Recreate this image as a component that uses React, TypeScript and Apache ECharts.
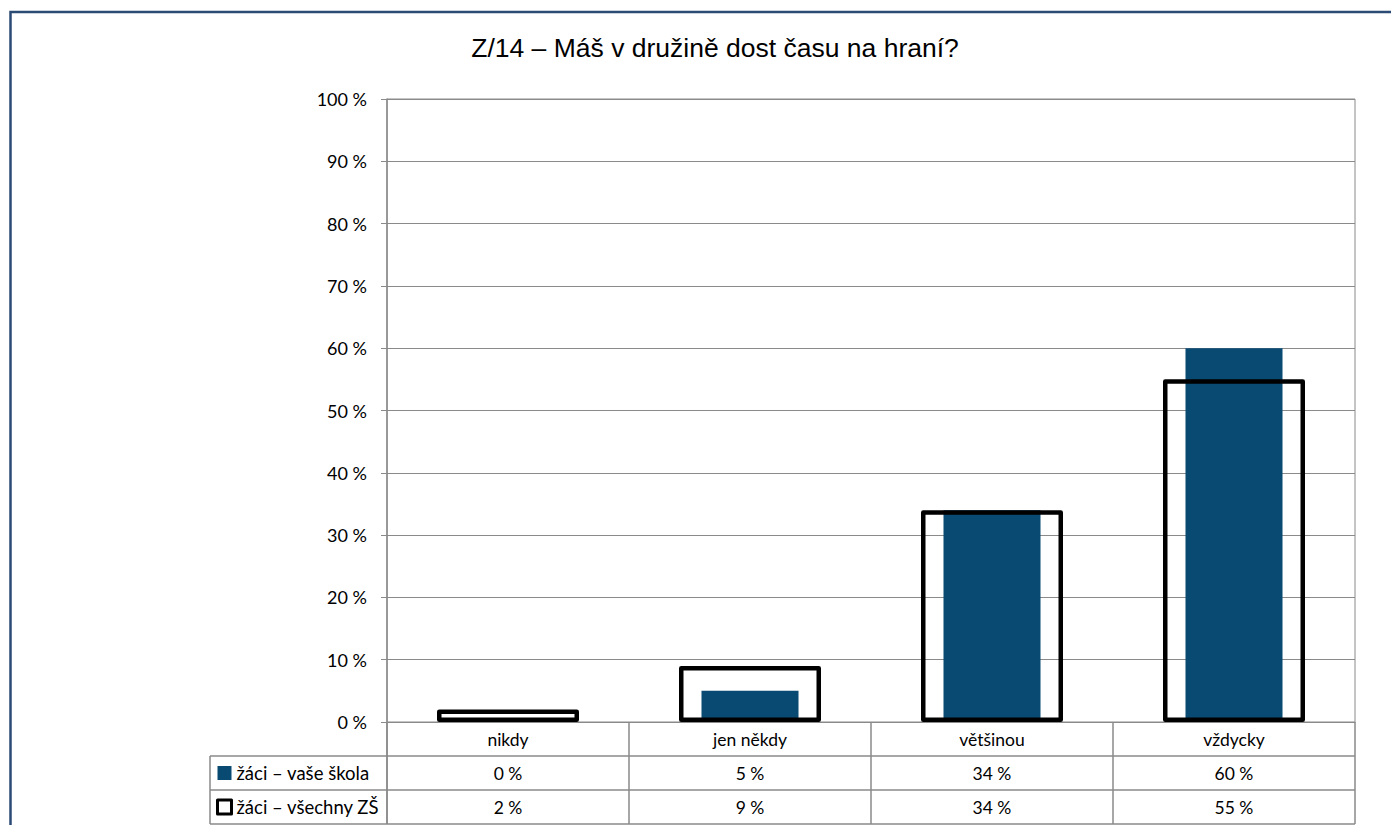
import React, { useEffect, useRef } from "react";
import * as echarts from "echarts";

const titleText = "Z/14 – Máš v družině dost času na hraní?";
const categories = ["nikdy", "jen někdy", "většinou", "vždycky"];
const seriesNames = ["žáci – vaše škola", "žáci – všechny ZŠ"];
const vaseSkola = [0, 5, 34, 60];
const vsechnyZS = [2, 9, 34, 55];
const yTicks = { min: 0, max: 100, interval: 10 };

const BLUE = "#094A73";
const GRAY = "#8a8a8a";
const FONT = "Lato";

const pct = (v: number) => `${v} %`;

export default function App() {
  const ref = useRef<HTMLDivElement>(null);
  useEffect(() => {
    if (!ref.current) return;
    const chart = echarts.init(ref.current, null, { renderer: "svg" });
    const tableLineY = [756, 790, 824];
    const option: any = {
      animation: false,
      backgroundColor: "#fff",
      grid: {
        left: 387,
        right: 36,
        top: 99,
        bottom: 103,
        containLabel: false,
        outerBoundsMode: "none",
        show: true,
        borderColor: GRAY,
        borderWidth: 1,
      },
      legend: {
        orient: "vertical",
        left: 216,
        top: 763,
        padding: 0,
        itemWidth: 14,
        itemHeight: 14,
        itemGap: 14,
        icon: "rect",
        selectedMode: false,
        textStyle: { fontFamily: FONT, fontSize: 18.5, color: "#000", lineHeight: 20 },
        data: [
          { name: seriesNames[0], itemStyle: { color: BLUE, borderWidth: 0 } },
          { name: seriesNames[1], itemStyle: { color: "#fff", borderColor: "#000", borderWidth: 3 } },
        ],
      },
      xAxis: [
        {
          type: "category",
          data: categories,
          boundaryGap: true,
          axisLine: { show: true, lineStyle: { color: GRAY, width: 1 } },
          axisTick: { show: true, alignWithLabel: false, interval: 0, length: 102, lineStyle: { color: GRAY, width: 1.5 } },
          axisLabel: {
            interval: 0,
            margin: 0,
            color: "#000",
            fontFamily: FONT,
            fontSize: 17.5,
            lineHeight: 34,
            formatter: (value: string, index: number) =>
              `${value}\n${pct(vaseSkola[index])}\n${pct(vsechnyZS[index])}`,
          },
          splitLine: { show: false },
        },
        {
          type: "category",
          data: categories,
          show: false,
        },
      ],
      yAxis: {
        type: "value",
        min: yTicks.min,
        max: yTicks.max,
        interval: yTicks.interval,
        axisLine: { show: true, lineStyle: { color: GRAY, width: 1.5 } },
        axisTick: { show: true, length: 6, lineStyle: { color: GRAY, width: 1 } },
        axisLabel: {
          margin: 20,
          color: "#000",
          fontFamily: FONT,
          fontSize: 18,
          formatter: (v: number) => pct(v),
        },
        splitLine: { show: true, lineStyle: { color: GRAY, width: 1 } },
      },
      series: [
        {
          name: seriesNames[0],
          type: "bar",
          xAxisIndex: 0,
          data: vaseSkola,
          barWidth: 97,
          itemStyle: { color: BLUE },
          z: 2,
        },
        {
          name: seriesNames[1],
          type: "bar",
          xAxisIndex: 1,
          data: vsechnyZS,
          barWidth: 142,
          itemStyle: { color: "transparent", borderColor: "#000", borderWidth: 4.5, borderJoin: "round" },
          z: 3,
        },
      ],
      graphic: [
        {
          type: "rect",
          shape: { x: 10.5, y: 12, width: 1420, height: 900 },
          style: { fill: "none", stroke: "#2B4A74", lineWidth: 2.5 },
          silent: true,
          z: 10,
        },
        {
          type: "text",
          x: 715,
          y: 48,
          style: {
            text: titleText,
            fontFamily: "Liberation Sans",
            fontSize: 26.5,
            fill: "#000",
            textAlign: "center",
            textVerticalAlign: "middle",
          },
        },
        ...tableLineY.map((y) => ({
          type: "line",
          shape: { x1: 210, y1: y, x2: 1355, y2: y },
          style: { stroke: GRAY, lineWidth: 1.5 },
          silent: true,
        })),
        {
          type: "line",
          shape: { x1: 210, y1: 756, x2: 210, y2: 824 },
          style: { stroke: GRAY, lineWidth: 1.5 },
          silent: true,
        },
        {
          type: "line",
          shape: { x1: 387, y1: 722, x2: 387, y2: 824 },
          style: { stroke: GRAY, lineWidth: 1.5 },
          silent: true,
        },
      ],
    };
    chart.setOption(option);
    return () => chart.dispose();
  }, []);
  return (
    <div
      ref={ref}
      style={{ position: "fixed", left: 0, top: 0, width: 1391, height: 825, background: "#fff" }}
    />
  );
}
